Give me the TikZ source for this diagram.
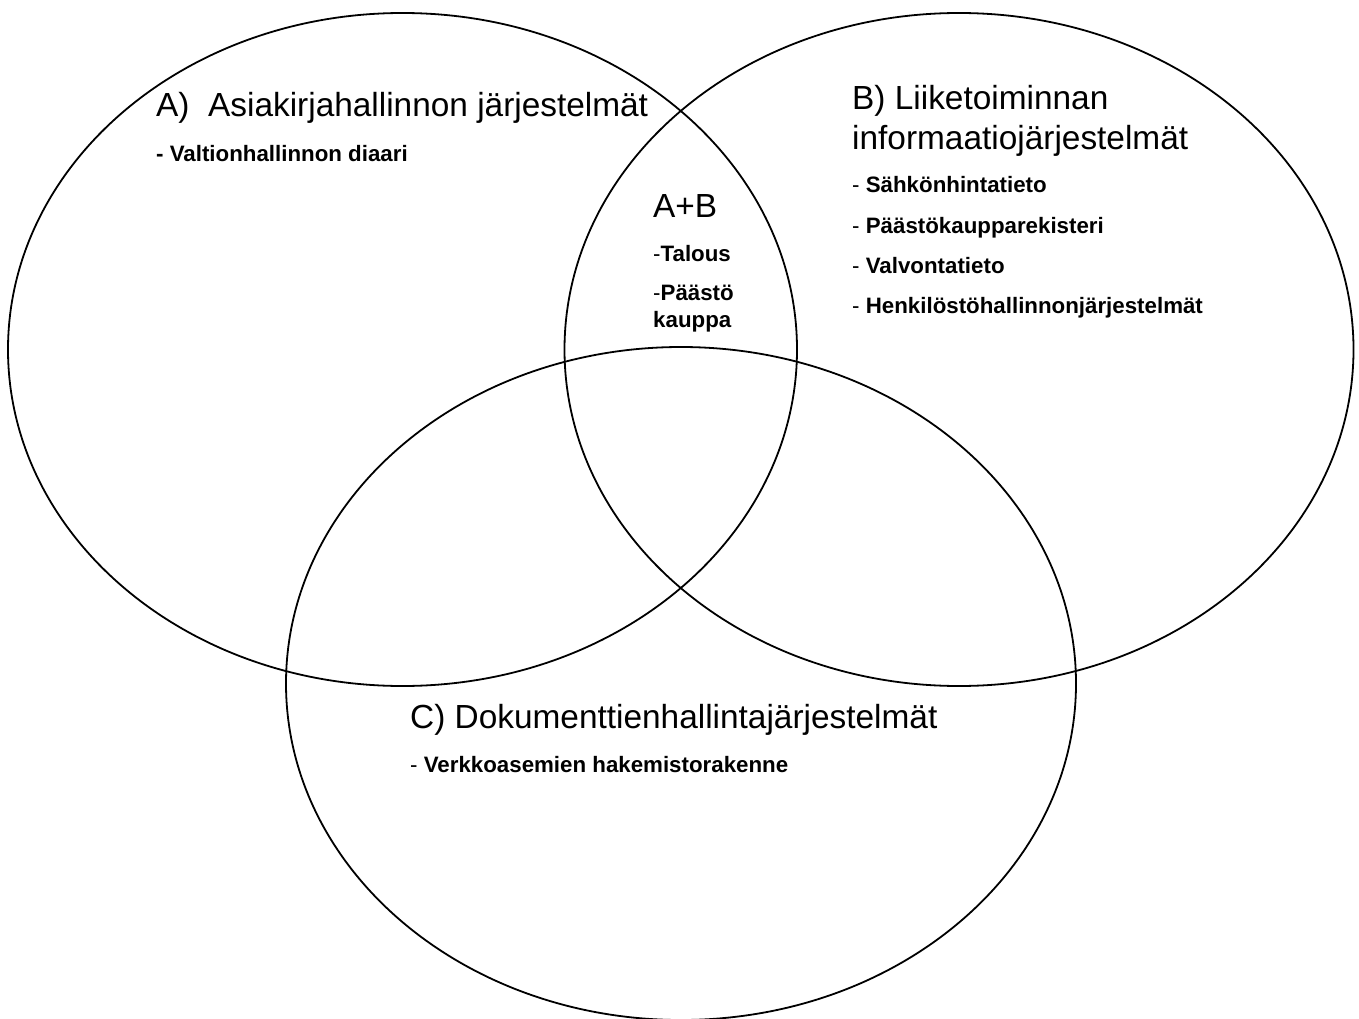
\documentclass[tikz,border=0pt]{standalone}
\usepackage{fontspec}
\setmainfont{Liberation Sans}
\begin{document}
\begin{tikzpicture}[x=1pt,y=-1pt,
  venn/.style={draw=black, line width=1.8pt},
  big/.style={anchor=base west, inner sep=0pt, font=\fontsize{33.4}{40}\selectfont},
  item/.style={anchor=base west, inner sep=0pt, font=\fontsize{22.3}{27}\selectfont}]
\useasboundingbox (0,0) rectangle (1359,1019);
\fill[white] (0,0) rectangle (1359,1019);
% circles
\draw[venn] (402.5,349.5) ellipse [x radius=394.5, y radius=336.5];
\draw[venn] (959,349.5) ellipse [x radius=394.5, y radius=336.5];
\draw[venn] (681,683.5) ellipse [x radius=395, y radius=336.5];
% A
\node[big]  (ta) at (156,117) {A)\ \ Asiakirjahallinnon järjestelmät};
\node[item] (a1) at (156,162) {\bfseries - Valtionhallinnon diaari};
% A+B
\node[big]  (tab) at (653,218) {A+B};
\node[item] (ab1) at (653,261) {-\textbf{Talous}};
\node[item] (ab2) at (653,300) {-\textbf{Päästö}};
\node[item] (ab3) at (653,327) {\textbf{kauppa}};
% B
\node[big]  (tb1) at (852,109.5) {B) Liiketoiminnan};
\node[big]  (tb2) at (852,150) {informaatiojärjestelmät};
\node[item] (b1) at (852,193) {- \textbf{Sähkönhintatieto}};
\node[item] (b2) at (852,233.5) {- \textbf{Päästökaupparekisteri}};
\node[item] (b3) at (852,273.5) {- \textbf{Valvontatieto}};
\node[item] (b4) at (852,313.5) {- \textbf{Henkilöstöhallinnonjärjestelmät}};
% C
\node[big]  (tc) at (410,728) {C) Dokumenttienhallintajärjestelmät};
\node[item] (c1) at (410,772) {- \textbf{Verkkoasemien hakemistorakenne}};
\end{tikzpicture}
\end{document}
